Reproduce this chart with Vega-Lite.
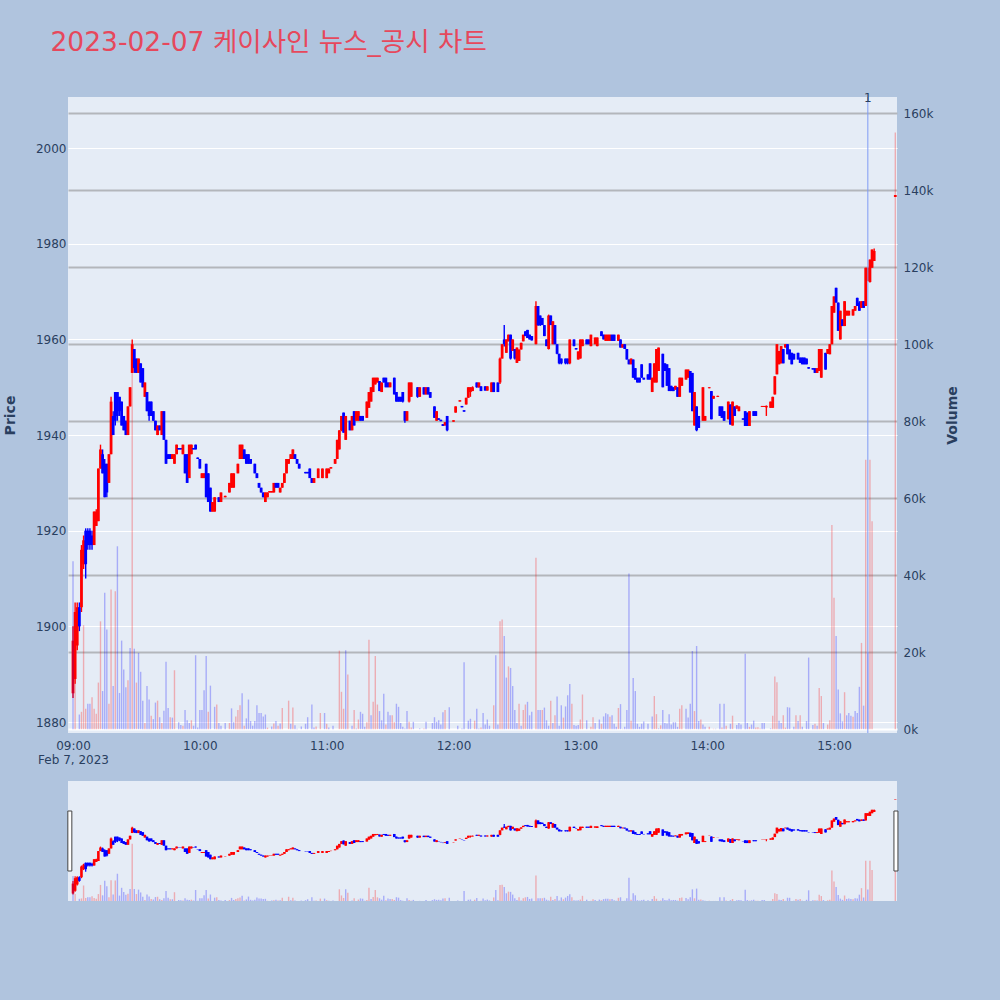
{
"$schema": "https://vega.github.io/schema/vega-lite/v6.json",
"background": "#b0c4de",
"padding": {"left": 3, "top": 29, "right": 50, "bottom": 110},
"title": {"text": "2023-02-07 케이사인 뉴스_공시 차트", "anchor": "start", "fontSize": 26.5, "font": "'DejaVu Sans', 'Noto Sans CJK KR', sans-serif", "fontWeight": "normal", "color": "#e6485c", "dx": 47, "offset": 36},
"config": {
  "view": {"stroke": null, "fill": "#e5ecf6"},
  "axis": {"labelFont": "'DejaVu Sans', sans-serif", "labelFontSize": 12, "labelColor": "#2a3f5f", "titleFont": "'DejaVu Sans', sans-serif", "titleColor": "#2a3f5f", "domain": false, "ticks": false}
},
"datasets": {
"candles": [
{"m":0,"o":1886,"h":1900,"l":1885,"c":1897},{"m":1,"o":1889,"h":1905,"l":1888,"c":1903},{"m":2,"o":1896,"h":1905,"l":1895,"c":1904},{"m":3,"o":1904,"h":1905,"l":1899,"c":1900},{"m":4,"o":1904,"h":1917,"l":1903,"c":1916},{"m":5,"o":1913,"h":1919,"l":1912,"c":1918},{"m":6,"o":1920,"h":1920.5,"l":1910,"c":1913},{"m":7,"o":1920,"h":1920.5,"l":1916,"c":1917},{"m":8,"o":1920,"h":1920.5,"l":1916,"c":1917},{"m":9,"o":1919,"h":1920,"l":1916,"c":1917},
{"m":10,"o":1917,"h":1924,"l":1917,"c":1924},{"m":11,"o":1921,"h":1924.5,"l":1921,"c":1924},{"m":12,"o":1922,"h":1933,"l":1922,"c":1933},{"m":13,"o":1933,"h":1938,"l":1933,"c":1937},{"m":14,"o":1936,"h":1937,"l":1932,"c":1932},{"m":15,"o":1934,"h":1935,"l":1927,"c":1927},{"m":16,"o":1934,"h":1934,"l":1927,"c":1928},{"m":17,"o":1930,"h":1936,"l":1930,"c":1936},{"m":18,"o":1936,"h":1948,"l":1936,"c":1947},{"m":19,"o":1944,"h":1945,"l":1940,"c":1940},
{"m":20,"o":1949,"h":1949,"l":1942,"c":1943},{"m":21,"o":1949,"h":1949,"l":1943,"c":1944},{"m":22,"o":1948,"h":1948,"l":1944,"c":1945},{"m":23,"o":1947,"h":1947,"l":1942,"c":1942},{"m":24,"o":1944,"h":1944,"l":1941,"c":1941},{"m":25,"o":1943,"h":1943,"l":1940,"c":1940},{"m":26,"o":1940,"h":1946,"l":1940,"c":1946},{"m":27,"o":1946,"h":1950,"l":1946,"c":1950},{"m":28,"o":1953,"h":1960,"l":1953,"c":1959},{"m":29,"o":1958,"h":1958,"l":1953,"c":1954},
{"m":30,"o":1956,"h":1956,"l":1953,"c":1953},{"m":31,"o":1953,"h":1956,"l":1953,"c":1956},{"m":32,"o":1955,"h":1955,"l":1951,"c":1951},{"m":33,"o":1954,"h":1954,"l":1950,"c":1950},{"m":34,"o":1948,"h":1951,"l":1948,"c":1951},{"m":35,"o":1949,"h":1949,"l":1945,"c":1945},{"m":36,"o":1947,"h":1947,"l":1943,"c":1944},{"m":37,"o":1947,"h":1947,"l":1944,"c":1944},{"m":38,"o":1945,"h":1945,"l":1943,"c":1943},{"m":39,"o":1943,"h":1943,"l":1941,"c":1941},
{"m":40,"o":1940,"h":1942,"l":1940,"c":1942},{"m":41,"o":1942,"h":1942,"l":1941,"c":1941},{"m":42,"o":1940,"h":1945,"l":1940,"c":1945},{"m":43,"o":1945,"h":1945,"l":1939,"c":1939},{"m":44,"o":1939,"h":1939,"l":1934,"c":1934},{"m":45,"o":1936,"h":1936,"l":1935,"c":1935},{"m":46,"o":1936,"h":1936,"l":1935,"c":1935},{"m":47,"o":1935,"h":1936,"l":1935,"c":1936},{"m":48,"o":1934,"h":1936,"l":1934,"c":1936},{"m":49,"o":1936,"h":1938,"l":1936,"c":1938},
{"m":50,"o":1937.3,"h":1937.3,"l":1937,"c":1937},{"m":51,"o":1937.3,"h":1937.3,"l":1937,"c":1937},{"m":52,"o":1936,"h":1938,"l":1936,"c":1938},{"m":53,"o":1936,"h":1936,"l":1932,"c":1932},{"m":54,"o":1936,"h":1936,"l":1930,"c":1930},{"m":55,"o":1931,"h":1938,"l":1931,"c":1938},{"m":56,"o":1936,"h":1938,"l":1936,"c":1938},{"m":57,"o":1937.3,"h":1937.3,"l":1937,"c":1937},{"m":58,"o":1938,"h":1938,"l":1937,"c":1937},{"m":59,"o":1935.3,"h":1935.3,"l":1935,"c":1935},
{"m":60,"o":1935,"h":1935,"l":1933,"c":1933},{"m":61,"o":1931,"h":1932,"l":1931,"c":1932},{"m":62,"o":1931,"h":1932,"l":1931,"c":1932},{"m":63,"o":1934,"h":1934,"l":1927,"c":1927},{"m":64,"o":1932,"h":1932,"l":1926,"c":1926},{"m":65,"o":1929,"h":1929,"l":1924,"c":1924},{"m":66,"o":1924,"h":1926,"l":1924,"c":1926},{"m":67,"o":1924,"h":1927,"l":1924,"c":1927},{"m":69,"o":1927,"h":1927,"l":1926,"c":1926},
{"m":70,"o":1926,"h":1928,"l":1926,"c":1928},{"m":72,"o":1927,"h":1927.3,"l":1927,"c":1927.3},{"m":74,"o":1928,"h":1930,"l":1928,"c":1930},{"m":75,"o":1929,"h":1932,"l":1929,"c":1932},{"m":76,"o":1929,"h":1932,"l":1929,"c":1932},{"m":78,"o":1932,"h":1934,"l":1932,"c":1934},{"m":79,"o":1935,"h":1938,"l":1935,"c":1938},
{"m":80,"o":1935,"h":1938,"l":1935,"c":1938},{"m":81,"o":1937,"h":1937,"l":1935,"c":1935},{"m":82,"o":1936,"h":1936,"l":1934,"c":1934},{"m":83,"o":1936,"h":1936,"l":1934,"c":1934},{"m":84,"o":1935,"h":1935,"l":1934,"c":1934},{"m":86,"o":1934,"h":1934,"l":1932,"c":1932},{"m":87,"o":1932,"h":1932,"l":1931,"c":1931},{"m":88,"o":1930,"h":1930,"l":1929,"c":1929},{"m":89,"o":1929,"h":1929,"l":1928,"c":1928},
{"m":90,"o":1928,"h":1928,"l":1927,"c":1927},{"m":91,"o":1926,"h":1928,"l":1926,"c":1928},{"m":92,"o":1927,"h":1928,"l":1927,"c":1928},{"m":93,"o":1928,"h":1928.3,"l":1928,"c":1928.3},{"m":94,"o":1928,"h":1928.3,"l":1928,"c":1928.3},{"m":95,"o":1928,"h":1930,"l":1928,"c":1930},{"m":96,"o":1930,"h":1930,"l":1929,"c":1929},{"m":97,"o":1930,"h":1930,"l":1929,"c":1929},{"m":98,"o":1928,"h":1929,"l":1928,"c":1929},{"m":99,"o":1929,"h":1930,"l":1929,"c":1930},
{"m":100,"o":1930,"h":1932,"l":1930,"c":1932},{"m":101,"o":1932,"h":1935,"l":1932,"c":1935},{"m":102,"o":1934,"h":1935,"l":1934,"c":1935},{"m":103,"o":1935,"h":1936,"l":1935,"c":1936},{"m":104,"o":1935,"h":1937,"l":1935,"c":1937},{"m":105,"o":1936,"h":1936,"l":1935,"c":1935},{"m":106,"o":1935,"h":1935,"l":1934,"c":1934},{"m":107,"o":1934,"h":1934,"l":1933,"c":1933},
{"m":110,"o":1932.3,"h":1932.3,"l":1932,"c":1932},{"m":111,"o":1932.3,"h":1932.3,"l":1932,"c":1932},{"m":112,"o":1933,"h":1933,"l":1931,"c":1931},{"m":113,"o":1931,"h":1931,"l":1930,"c":1930},{"m":114,"o":1930,"h":1931,"l":1930,"c":1931},{"m":116,"o":1931,"h":1933,"l":1931,"c":1933},{"m":118,"o":1931,"h":1933,"l":1931,"c":1933},
{"m":120,"o":1931,"h":1933,"l":1931,"c":1933},{"m":121,"o":1932,"h":1933,"l":1932,"c":1933},{"m":122,"o":1933,"h":1933.3,"l":1933,"c":1933.3},{"m":124,"o":1934,"h":1935,"l":1934,"c":1935},{"m":125,"o":1935,"h":1939,"l":1935,"c":1939},{"m":126,"o":1937,"h":1941,"l":1937,"c":1941},{"m":127,"o":1941,"h":1944,"l":1940.8,"c":1944},{"m":128,"o":1944.7,"h":1944.7,"l":1940.5,"c":1940.5},{"m":129,"o":1939,"h":1944,"l":1939,"c":1944},
{"m":131,"o":1943,"h":1943,"l":1941,"c":1941},{"m":132,"o":1941,"h":1944,"l":1941,"c":1944},{"m":133,"o":1945,"h":1945,"l":1942,"c":1942},{"m":134,"o":1943,"h":1945,"l":1943,"c":1945},{"m":135,"o":1943,"h":1945,"l":1943,"c":1945},{"m":136,"o":1944,"h":1944,"l":1943,"c":1943},{"m":137,"o":1944,"h":1944,"l":1943,"c":1943},{"m":139,"o":1943.6,"h":1947,"l":1943.6,"c":1947},
{"m":140,"o":1945.7,"h":1949,"l":1945.7,"c":1949},{"m":141,"o":1947,"h":1950,"l":1947,"c":1950},{"m":142,"o":1949,"h":1952,"l":1949,"c":1952},{"m":143,"o":1950.6,"h":1952,"l":1950.6,"c":1952},{"m":144,"o":1951,"h":1952,"l":1951,"c":1952},{"m":145,"o":1951.3,"h":1951.3,"l":1949.2,"c":1949.2},{"m":146,"o":1949,"h":1951,"l":1949,"c":1951},{"m":147,"o":1952,"h":1952,"l":1951,"c":1951},{"m":148,"o":1952,"h":1952,"l":1950,"c":1950},{"m":149,"o":1951,"h":1951,"l":1950,"c":1950},
{"m":150,"o":1950,"h":1951,"l":1950,"c":1951},{"m":152,"o":1952,"h":1952,"l":1948.5,"c":1948.5},{"m":153,"o":1949,"h":1949,"l":1947,"c":1947},{"m":154,"o":1948,"h":1948,"l":1947,"c":1947},{"m":155,"o":1948,"h":1948,"l":1947,"c":1947},{"m":156,"o":1949,"h":1949,"l":1946.8,"c":1947},{"m":157,"o":1945,"h":1945,"l":1942.6,"c":1943},{"m":158,"o":1943,"h":1945,"l":1943,"c":1945},{"m":159,"o":1947,"h":1951,"l":1946.8,"c":1951},
{"m":160,"o":1948,"h":1951,"l":1948,"c":1951},{"m":163,"o":1950,"h":1950,"l":1947.8,"c":1948},{"m":164,"o":1948,"h":1950,"l":1948,"c":1950},{"m":166,"o":1950,"h":1950,"l":1948.5,"c":1948.5},{"m":167,"o":1948.5,"h":1950,"l":1948.5,"c":1950},{"m":168,"o":1950,"h":1950,"l":1948.5,"c":1948.5},{"m":169,"o":1949,"h":1949,"l":1947.8,"c":1947.8},
{"m":171,"o":1946,"h":1946,"l":1943.6,"c":1943.6},{"m":172,"o":1943,"h":1945,"l":1943,"c":1945},{"m":173,"o":1943.5,"h":1943.5,"l":1943.2,"c":1943.2},{"m":174,"o":1943.2,"h":1943.2,"l":1942.9,"c":1942.9},{"m":175,"o":1942.3,"h":1942.3,"l":1941.9,"c":1941.9},{"m":176,"o":1942,"h":1942.7,"l":1942,"c":1942.7},{"m":177,"o":1944,"h":1944,"l":1940.8,"c":1941},
{"m":180,"o":1942.8,"h":1943.1,"l":1942.8,"c":1943.1},{"m":181,"o":1944.7,"h":1946,"l":1944.7,"c":1946},{"m":183,"o":1947,"h":1947.3,"l":1947,"c":1947.3},{"m":184,"o":1946.1,"h":1946.1,"l":1945.8,"c":1945.8},{"m":185,"o":1945.2,"h":1945.2,"l":1944.9,"c":1944.9},{"m":186,"o":1946.4,"h":1947.8,"l":1946.4,"c":1947.8},{"m":187,"o":1947.8,"h":1950,"l":1947.8,"c":1950},{"m":188,"o":1949,"h":1950,"l":1948,"c":1950},{"m":189,"o":1949.2,"h":1950.2,"l":1949.2,"c":1950},
{"m":191,"o":1951,"h":1951,"l":1949.9,"c":1950},{"m":192,"o":1950,"h":1951,"l":1949.9,"c":1951},{"m":193,"o":1950.2,"h":1950.2,"l":1949.2,"c":1949.2},{"m":195,"o":1950.2,"h":1950.2,"l":1949.3,"c":1949.3},{"m":196,"o":1949.3,"h":1950.2,"l":1949.3,"c":1950.2},{"m":198,"o":1949,"h":1951,"l":1949,"c":1951},{"m":199,"o":1951,"h":1951,"l":1949,"c":1949},
{"m":201,"o":1951,"h":1951,"l":1949,"c":1949},{"m":202,"o":1951,"h":1956.2,"l":1950.7,"c":1956},{"m":203,"o":1956,"h":1959,"l":1956,"c":1959},{"m":204,"o":1960,"h":1963,"l":1958.5,"c":1959},{"m":205,"o":1957.2,"h":1960,"l":1957.2,"c":1960},{"m":206,"o":1959.6,"h":1961,"l":1959.6,"c":1961},{"m":207,"o":1961,"h":1961,"l":1955.8,"c":1956},{"m":208,"o":1957.6,"h":1960,"l":1957.6,"c":1960},{"m":209,"o":1958,"h":1958,"l":1955.8,"c":1956},
{"m":210,"o":1955.1,"h":1958.3,"l":1955.1,"c":1958.3},{"m":211,"o":1955.5,"h":1957.9,"l":1955.5,"c":1957.9},{"m":212,"o":1957.9,"h":1959.3,"l":1957.9,"c":1959.3},{"m":213,"o":1959.6,"h":1961,"l":1959.6,"c":1961},{"m":214,"o":1961.7,"h":1961.7,"l":1960.7,"c":1960.7},{"m":215,"o":1962,"h":1962,"l":1960.3,"c":1960.3},{"m":216,"o":1961,"h":1961,"l":1960,"c":1960},{"m":217,"o":1960.7,"h":1960.7,"l":1959.8,"c":1959.8},{"m":219,"o":1959,"h":1968,"l":1959,"c":1967},
{"m":220,"o":1967,"h":1967,"l":1962.8,"c":1963},{"m":221,"o":1965,"h":1965,"l":1962.8,"c":1963},{"m":222,"o":1964.5,"h":1964.5,"l":1963,"c":1963},{"m":223,"o":1963,"h":1963,"l":1960.7,"c":1960.7},{"m":224,"o":1960,"h":1960,"l":1958.6,"c":1958.6},{"m":225,"o":1958,"h":1965.2,"l":1957.9,"c":1965},{"m":226,"o":1965,"h":1965,"l":1963,"c":1963},{"m":227,"o":1959,"h":1963.8,"l":1959,"c":1963.8},{"m":228,"o":1963,"h":1963,"l":1959,"c":1959},{"m":229,"o":1959,"h":1959,"l":1956.9,"c":1957},
{"m":230,"o":1957,"h":1957,"l":1954.8,"c":1955},{"m":231,"o":1956,"h":1956,"l":1954.8,"c":1955},{"m":233,"o":1956,"h":1956,"l":1954.8,"c":1955},{"m":234,"o":1956,"h":1956,"l":1954.8,"c":1955},{"m":235,"o":1955,"h":1960,"l":1954.8,"c":1960},{"m":237,"o":1960,"h":1960,"l":1958.6,"c":1958.6},{"m":238,"o":1958.2,"h":1958.2,"l":1957.9,"c":1957.9},{"m":239,"o":1955.8,"h":1957.5,"l":1955.8,"c":1957.5},
{"m":240,"o":1956,"h":1960,"l":1956,"c":1960},{"m":241,"o":1958.6,"h":1960,"l":1958.6,"c":1960},{"m":243,"o":1960,"h":1960,"l":1959,"c":1959},{"m":244,"o":1960,"h":1960,"l":1959,"c":1959},{"m":245,"o":1958.6,"h":1961,"l":1958.6,"c":1961},{"m":247,"o":1959,"h":1960.4,"l":1959,"c":1960.4},{"m":248,"o":1958.6,"h":1960.4,"l":1958.6,"c":1960.4},
{"m":250,"o":1961.7,"h":1961.7,"l":1960.7,"c":1960.7},{"m":251,"o":1961,"h":1961,"l":1960,"c":1960},{"m":252,"o":1959.7,"h":1961,"l":1959.7,"c":1961},{"m":253,"o":1959.7,"h":1961,"l":1959.7,"c":1961},{"m":254,"o":1959.7,"h":1961,"l":1959.7,"c":1961},{"m":255,"o":1961,"h":1961,"l":1959.7,"c":1959.7},{"m":256,"o":1961,"h":1961,"l":1959.7,"c":1959.7},{"m":258,"o":1959.7,"h":1961,"l":1959.7,"c":1961},{"m":259,"o":1960,"h":1960,"l":1958.3,"c":1958.3},
{"m":260,"o":1958.3,"h":1959,"l":1958.3,"c":1959},{"m":261,"o":1959,"h":1959,"l":1958,"c":1958},{"m":262,"o":1958,"h":1958,"l":1955.8,"c":1955.8},{"m":263,"o":1955.8,"h":1955.8,"l":1954.8,"c":1954.8},{"m":264,"o":1954.8,"h":1956,"l":1954.8,"c":1956},{"m":265,"o":1955.8,"h":1955.8,"l":1952,"c":1952},{"m":266,"o":1954,"h":1954,"l":1951.6,"c":1951.6},{"m":267,"o":1952,"h":1952,"l":1951,"c":1951},{"m":268,"o":1952,"h":1952,"l":1951,"c":1951},{"m":269,"o":1954.8,"h":1954.8,"l":1952,"c":1952},
{"m":270,"o":1952,"h":1952,"l":1951.6,"c":1951.6},{"m":272,"o":1952.7,"h":1952.7,"l":1951.6,"c":1951.6},{"m":273,"o":1955,"h":1955,"l":1951.6,"c":1951.6},{"m":274,"o":1949,"h":1952,"l":1949,"c":1952},{"m":275,"o":1951,"h":1955,"l":1951,"c":1955},{"m":276,"o":1951,"h":1958,"l":1951,"c":1958},{"m":277,"o":1953.4,"h":1958.3,"l":1953.4,"c":1958.3},{"m":279,"o":1957,"h":1957,"l":1950,"c":1950},
{"m":280,"o":1955,"h":1955,"l":1953.4,"c":1953.4},{"m":281,"o":1954.8,"h":1954.8,"l":1950.3,"c":1950.3},{"m":282,"o":1954,"h":1954,"l":1949.2,"c":1949.2},{"m":283,"o":1950.3,"h":1950.3,"l":1949.2,"c":1949.2},{"m":284,"o":1950,"h":1950,"l":1949.2,"c":1949.2},{"m":285,"o":1949.5,"h":1950.3,"l":1949.5,"c":1950.3},{"m":286,"o":1950,"h":1950,"l":1948,"c":1948},{"m":287,"o":1948,"h":1952,"l":1948,"c":1952},{"m":288,"o":1950.3,"h":1952,"l":1950.3,"c":1952},
{"m":290,"o":1951.6,"h":1953.7,"l":1951.6,"c":1953.7},{"m":291,"o":1952,"h":1953.7,"l":1952,"c":1953.7},{"m":292,"o":1953.4,"h":1953.4,"l":1948.9,"c":1948.9},{"m":293,"o":1953,"h":1953,"l":1945,"c":1945},{"m":294,"o":1942,"h":1949,"l":1942,"c":1949},{"m":295,"o":1946,"h":1946,"l":1940.8,"c":1941},{"m":296,"o":1944,"h":1944,"l":1941.5,"c":1941.5},{"m":298,"o":1943,"h":1950,"l":1943,"c":1950},{"m":299,"o":1943,"h":1944,"l":1943,"c":1944},
{"m":301,"o":1949.8,"h":1950,"l":1949.8,"c":1950},{"m":302,"o":1949.2,"h":1949.2,"l":1943.3,"c":1943.3},{"m":303,"o":1947.6,"h":1948.2,"l":1947.6,"c":1948.2},{"m":305,"o":1948,"h":1948.2,"l":1948,"c":1948.2},{"m":306,"o":1946,"h":1946,"l":1944,"c":1944},{"m":307,"o":1946,"h":1946,"l":1943.6,"c":1943.6},{"m":308,"o":1945,"h":1945,"l":1943,"c":1943},
{"m":310,"o":1943.3,"h":1947,"l":1943.3,"c":1947},{"m":311,"o":1946.4,"h":1946.4,"l":1942.2,"c":1942.2},{"m":312,"o":1942,"h":1947,"l":1942,"c":1947},{"m":313,"o":1946,"h":1946,"l":1944,"c":1944},{"m":314,"o":1945.5,"h":1946.2,"l":1945.5,"c":1946.2},{"m":315,"o":1945,"h":1946,"l":1945,"c":1946},{"m":317,"o":1943.5,"h":1943.5,"l":1943.2,"c":1943.2},{"m":318,"o":1945,"h":1945,"l":1941.9,"c":1941.9},{"m":319,"o":1944.7,"h":1944.7,"l":1941.9,"c":1941.9},
{"m":320,"o":1941.9,"h":1945,"l":1941.9,"c":1945},{"m":322,"o":1945,"h":1945,"l":1944,"c":1944},{"m":323,"o":1945,"h":1945,"l":1944,"c":1944},{"m":326,"o":1945.9,"h":1946.1,"l":1945.9,"c":1946.1},{"m":327,"o":1945.9,"h":1946.1,"l":1945.9,"c":1946.1},{"m":328,"o":1945.8,"h":1946.2,"l":1944,"c":1946.1},
{"m":330,"o":1945.7,"h":1947,"l":1945.7,"c":1947},{"m":331,"o":1945.7,"h":1948,"l":1945.7,"c":1948},{"m":332,"o":1948.5,"h":1952.3,"l":1948.5,"c":1952.3},{"m":333,"o":1952.7,"h":1959,"l":1952.7,"c":1959},{"m":334,"o":1954.8,"h":1957.6,"l":1954.8,"c":1957.6},{"m":335,"o":1955,"h":1958.6,"l":1955,"c":1958.6},{"m":336,"o":1958,"h":1958,"l":1955,"c":1955},{"m":337,"o":1958.3,"h":1959,"l":1958.3,"c":1959},{"m":338,"o":1959,"h":1959,"l":1956.9,"c":1956.9},{"m":339,"o":1957.9,"h":1957.9,"l":1955.8,"c":1955.8},
{"m":340,"o":1957.2,"h":1957.2,"l":1954.8,"c":1954.8},{"m":341,"o":1957,"h":1957,"l":1955.8,"c":1955.8},{"m":343,"o":1957.2,"h":1957.2,"l":1955.8,"c":1955.8},{"m":344,"o":1956.2,"h":1956.2,"l":1955.1,"c":1955.1},{"m":345,"o":1956.2,"h":1956.2,"l":1954.8,"c":1954.8},{"m":346,"o":1956.2,"h":1956.2,"l":1954.8,"c":1954.8},{"m":347,"o":1956,"h":1956,"l":1954.8,"c":1954.8},{"m":348,"o":1954.2,"h":1954.2,"l":1953.9,"c":1953.9},
{"m":350,"o":1954,"h":1954,"l":1953.7,"c":1953.7},{"m":351,"o":1954,"h":1954,"l":1953,"c":1953},{"m":352,"o":1953,"h":1954,"l":1953,"c":1954},{"m":353,"o":1953.4,"h":1958,"l":1953.4,"c":1958},{"m":354,"o":1952,"h":1958,"l":1952,"c":1958},{"m":356,"o":1957.2,"h":1957.2,"l":1953.7,"c":1953.7},{"m":357,"o":1957,"h":1958,"l":1957,"c":1958},{"m":358,"o":1956.9,"h":1959,"l":1956.9,"c":1959},{"m":359,"o":1959,"h":1967,"l":1959,"c":1967},
{"m":360,"o":1965.6,"h":1969,"l":1965.6,"c":1969},{"m":361,"o":1970.8,"h":1970.8,"l":1967.7,"c":1967.7},{"m":362,"o":1967.7,"h":1967.7,"l":1961.8,"c":1961.8},{"m":363,"o":1960,"h":1966,"l":1960,"c":1966},{"m":364,"o":1964.2,"h":1964.2,"l":1962.8,"c":1962.8},{"m":365,"o":1962.8,"h":1968,"l":1962.8,"c":1968},{"m":366,"o":1965,"h":1966,"l":1965,"c":1966},{"m":367,"o":1965,"h":1966,"l":1965,"c":1966},{"m":369,"o":1965,"h":1966.3,"l":1965,"c":1966.3},
{"m":370,"o":1966,"h":1967,"l":1966,"c":1967},{"m":371,"o":1968.7,"h":1968.7,"l":1967,"c":1967},{"m":372,"o":1967.7,"h":1968,"l":1966,"c":1966},{"m":373,"o":1966.6,"h":1968,"l":1966.6,"c":1968},{"m":374,"o":1968,"h":1968,"l":1966.6,"c":1966.6},{"m":375,"o":1967,"h":1975,"l":1967,"c":1975},{"m":376,"o":1972.2,"h":1975,"l":1972.2,"c":1975},{"m":377,"o":1972,"h":1976.7,"l":1971.9,"c":1976.7},{"m":378,"o":1975,"h":1978.8,"l":1975,"c":1978.8},{"m":379,"o":1976.4,"h":1979,"l":1976.4,"c":1978.5},
{"m":389,"o":1989.8,"h":1990.2,"l":1989.8,"c":1990.2}
],
"vol": [
{"m":0,"v":43600,"d":"d"},{"m":1,"v":12000,"d":"u"},{"m":3,"v":3800,"d":"d"},{"m":4,"v":4500,"d":"u"},{"m":5,"v":27000,"d":"u"},{"m":6,"v":5300,"d":"u"},{"m":7,"v":6600,"d":"d"},{"m":8,"v":6600,"d":"d"},{"m":9,"v":8300,"d":"u"},
{"m":10,"v":5300,"d":"u"},{"m":11,"v":4000,"d":"u"},{"m":12,"v":12100,"d":"u"},{"m":13,"v":28000,"d":"u"},{"m":14,"v":9900,"d":"d"},{"m":15,"v":35400,"d":"d"},{"m":16,"v":25900,"d":"d"},{"m":17,"v":6600,"d":"u"},{"m":18,"v":36300,"d":"u"},{"m":19,"v":11200,"d":"d"},
{"m":20,"v":35800,"d":"u"},{"m":21,"v":47500,"d":"d"},{"m":22,"v":9400,"d":"d"},{"m":23,"v":23000,"d":"d"},{"m":24,"v":15500,"d":"d"},{"m":25,"v":10900,"d":"d"},{"m":26,"v":12700,"d":"u"},{"m":27,"v":21100,"d":"d"},{"m":28,"v":99500,"d":"u"},{"m":29,"v":20900,"d":"d"},
{"m":30,"v":12100,"d":"u"},{"m":31,"v":19800,"d":"d"},{"m":32,"v":14900,"d":"d"},{"m":33,"v":7400,"d":"d"},{"m":34,"v":1600,"d":"u"},{"m":35,"v":11200,"d":"d"},{"m":36,"v":7700,"d":"d"},{"m":37,"v":3500,"d":"u"},{"m":38,"v":2600,"d":"d"},{"m":39,"v":6900,"d":"d"},
{"m":40,"v":7400,"d":"u"},{"m":41,"v":3100,"d":"d"},{"m":42,"v":1600,"d":"u"},{"m":43,"v":4800,"d":"d"},{"m":44,"v":17500,"d":"d"},{"m":45,"v":5500,"d":"d"},{"m":46,"v":3100,"d":"u"},{"m":47,"v":3000,"d":"d"},{"m":48,"v":15300,"d":"u"},
{"m":50,"v":1800,"d":"d"},{"m":51,"v":1100,"d":"d"},{"m":52,"v":900,"d":"u"},{"m":53,"v":5000,"d":"d"},{"m":54,"v":2300,"d":"d"},{"m":55,"v":1600,"d":"d"},{"m":56,"v":2300,"d":"u"},{"m":57,"v":900,"d":"d"},{"m":58,"v":19200,"d":"d"},{"m":59,"v":400,"d":"d"},
{"m":60,"v":5000,"d":"d"},{"m":61,"v":5000,"d":"d"},{"m":62,"v":10100,"d":"d"},{"m":63,"v":19000,"d":"d"},{"m":64,"v":4500,"d":"u"},{"m":65,"v":11300,"d":"d"},{"m":67,"v":5800,"d":"d"},{"m":68,"v":6400,"d":"u"},{"m":69,"v":1600,"d":"d"},
{"m":70,"v":900,"d":"d"},{"m":72,"v":1600,"d":"d"},{"m":74,"v":1600,"d":"u"},{"m":75,"v":5400,"d":"d"},{"m":76,"v":1800,"d":"d"},{"m":77,"v":3300,"d":"u"},{"m":78,"v":5000,"d":"u"},{"m":79,"v":6200,"d":"u"},
{"m":80,"v":9300,"d":"d"},{"m":81,"v":900,"d":"u"},{"m":82,"v":2800,"d":"d"},{"m":83,"v":7700,"d":"d"},{"m":84,"v":2100,"d":"d"},{"m":85,"v":900,"d":"d"},{"m":86,"v":2100,"d":"d"},{"m":87,"v":6200,"d":"d"},{"m":88,"v":4200,"d":"d"},{"m":89,"v":4200,"d":"d"},
{"m":90,"v":3300,"d":"d"},{"m":91,"v":3800,"d":"d"},{"m":92,"v":400,"d":"u"},{"m":94,"v":700,"d":"d"},{"m":95,"v":1500,"d":"u"},{"m":96,"v":2100,"d":"d"},{"m":97,"v":900,"d":"u"},{"m":98,"v":1500,"d":"d"},{"m":99,"v":5500,"d":"u"},
{"m":102,"v":7400,"d":"u"},{"m":103,"v":1400,"d":"d"},{"m":104,"v":5600,"d":"u"},{"m":105,"v":1000,"d":"d"},{"m":106,"v":100,"d":"d"},{"m":108,"v":700,"d":"d"},
{"m":110,"v":1400,"d":"d"},{"m":111,"v":3100,"d":"d"},{"m":113,"v":6400,"d":"d"},{"m":114,"v":400,"d":"d"},{"m":115,"v":700,"d":"u"},{"m":117,"v":4200,"d":"u"},{"m":119,"v":4200,"d":"d"},
{"m":120,"v":1400,"d":"u"},{"m":121,"v":400,"d":"d"},{"m":123,"v":900,"d":"d"},{"m":126,"v":20400,"d":"u"},{"m":127,"v":9700,"d":"u"},{"m":128,"v":5300,"d":"u"},{"m":129,"v":20500,"d":"d"},
{"m":130,"v":14200,"d":"u"},{"m":132,"v":900,"d":"d"},{"m":133,"v":5000,"d":"u"},{"m":134,"v":200,"d":"d"},{"m":135,"v":2500,"d":"u"},{"m":136,"v":4500,"d":"d"},{"m":137,"v":4000,"d":"d"},{"m":138,"v":600,"d":"d"},{"m":139,"v":1800,"d":"u"},
{"m":140,"v":23200,"d":"u"},{"m":141,"v":3600,"d":"d"},{"m":142,"v":7100,"d":"u"},{"m":143,"v":19000,"d":"u"},{"m":144,"v":6400,"d":"u"},{"m":145,"v":4700,"d":"d"},{"m":146,"v":2300,"d":"d"},{"m":147,"v":9200,"d":"d"},{"m":148,"v":1200,"d":"u"},{"m":149,"v":4500,"d":"d"},
{"m":150,"v":3600,"d":"d"},{"m":151,"v":3600,"d":"u"},{"m":152,"v":1800,"d":"u"},{"m":153,"v":6600,"d":"d"},{"m":154,"v":5800,"d":"d"},{"m":155,"v":1600,"d":"d"},{"m":156,"v":600,"d":"d"},{"m":157,"v":200,"d":"d"},{"m":158,"v":4700,"d":"d"},{"m":159,"v":1900,"d":"u"},
{"m":160,"v":400,"d":"u"},{"m":161,"v":1900,"d":"d"},{"m":164,"v":200,"d":"d"},{"m":166,"v":200,"d":"u"},{"m":167,"v":1900,"d":"d"},
{"m":170,"v":1600,"d":"d"},{"m":171,"v":3100,"d":"d"},{"m":172,"v":1900,"d":"d"},{"m":173,"v":2300,"d":"d"},{"m":174,"v":1200,"d":"d"},{"m":175,"v":4400,"d":"d"},{"m":176,"v":5000,"d":"u"},{"m":178,"v":5700,"d":"d"},
{"m":182,"v":900,"d":"d"},{"m":184,"v":200,"d":"d"},{"m":185,"v":17400,"d":"d"},{"m":187,"v":2200,"d":"d"},{"m":188,"v":2700,"d":"d"},
{"m":190,"v":2200,"d":"u"},{"m":191,"v":5300,"d":"d"},{"m":192,"v":200,"d":"d"},{"m":193,"v":400,"d":"u"},{"m":194,"v":4200,"d":"d"},{"m":195,"v":1200,"d":"d"},{"m":196,"v":2500,"d":"d"},{"m":197,"v":900,"d":"d"},{"m":199,"v":6200,"d":"u"},
{"m":200,"v":19200,"d":"d"},{"m":201,"v":1200,"d":"d"},{"m":202,"v":28000,"d":"u"},{"m":203,"v":28500,"d":"u"},{"m":204,"v":24200,"d":"d"},{"m":205,"v":13400,"d":"d"},{"m":206,"v":16300,"d":"u"},{"m":207,"v":15900,"d":"d"},{"m":208,"v":11200,"d":"d"},{"m":209,"v":5000,"d":"d"},
{"m":210,"v":1600,"d":"d"},{"m":211,"v":6600,"d":"u"},{"m":212,"v":900,"d":"d"},{"m":213,"v":5000,"d":"u"},{"m":214,"v":6400,"d":"u"},{"m":215,"v":7100,"d":"d"},{"m":216,"v":3600,"d":"d"},{"m":217,"v":4500,"d":"d"},{"m":219,"v":44500,"d":"u"},
{"m":220,"v":5000,"d":"d"},{"m":221,"v":5000,"d":"d"},{"m":222,"v":5000,"d":"u"},{"m":223,"v":5600,"d":"d"},{"m":224,"v":2300,"d":"d"},{"m":225,"v":900,"d":"d"},{"m":226,"v":7400,"d":"u"},{"m":227,"v":1600,"d":"d"},{"m":228,"v":3600,"d":"u"},{"m":229,"v":8500,"d":"d"},
{"m":230,"v":900,"d":"d"},{"m":231,"v":6200,"d":"d"},{"m":232,"v":3000,"d":"u"},{"m":233,"v":5900,"d":"d"},{"m":234,"v":8800,"d":"d"},{"m":235,"v":11700,"d":"d"},{"m":236,"v":6600,"d":"u"},{"m":237,"v":1100,"d":"d"},{"m":238,"v":900,"d":"d"},{"m":239,"v":1100,"d":"d"},
{"m":240,"v":2500,"d":"u"},{"m":241,"v":9000,"d":"u"},{"m":243,"v":2300,"d":"d"},{"m":245,"v":600,"d":"u"},{"m":246,"v":3100,"d":"u"},{"m":247,"v":1600,"d":"d"},{"m":249,"v":2500,"d":"d"},
{"m":250,"v":1400,"d":"u"},{"m":251,"v":3300,"d":"d"},{"m":252,"v":4100,"d":"d"},{"m":253,"v":3900,"d":"d"},{"m":254,"v":3200,"d":"u"},{"m":255,"v":3600,"d":"d"},{"m":256,"v":1400,"d":"d"},{"m":257,"v":600,"d":"d"},{"m":258,"v":5500,"d":"u"},{"m":259,"v":6500,"d":"d"},
{"m":260,"v":100,"d":"d"},{"m":261,"v":600,"d":"d"},{"m":262,"v":5000,"d":"d"},{"m":263,"v":40400,"d":"d"},{"m":264,"v":2200,"d":"u"},{"m":265,"v":13300,"d":"d"},{"m":266,"v":9900,"d":"d"},{"m":267,"v":1400,"d":"d"},{"m":268,"v":600,"d":"d"},{"m":269,"v":1400,"d":"d"},
{"m":270,"v":2000,"d":"d"},{"m":272,"v":1400,"d":"d"},{"m":274,"v":3300,"d":"d"},{"m":275,"v":8600,"d":"u"},{"m":276,"v":3900,"d":"u"},{"m":277,"v":200,"d":"d"},{"m":278,"v":1000,"d":"u"},{"m":279,"v":5000,"d":"d"},
{"m":280,"v":1600,"d":"d"},{"m":281,"v":1500,"d":"d"},{"m":282,"v":3900,"d":"d"},{"m":283,"v":1200,"d":"d"},{"m":284,"v":1800,"d":"d"},{"m":285,"v":1800,"d":"d"},{"m":286,"v":600,"d":"d"},{"m":287,"v":5300,"d":"u"},{"m":288,"v":6200,"d":"u"},
{"m":290,"v":5300,"d":"d"},{"m":291,"v":3000,"d":"d"},{"m":292,"v":6600,"d":"d"},{"m":293,"v":20300,"d":"d"},{"m":294,"v":4700,"d":"u"},{"m":295,"v":21600,"d":"d"},{"m":296,"v":2100,"d":"d"},{"m":297,"v":2500,"d":"u"},{"m":298,"v":1200,"d":"d"},{"m":299,"v":600,"d":"d"},
{"m":301,"v":600,"d":"u"},{"m":303,"v":100,"d":"u"},{"m":304,"v":100,"d":"d"},{"m":306,"v":6600,"d":"d"},{"m":307,"v":400,"d":"u"},{"m":308,"v":6600,"d":"d"},{"m":309,"v":900,"d":"u"},
{"m":311,"v":1400,"d":"d"},{"m":312,"v":3500,"d":"u"},{"m":314,"v":1100,"d":"d"},{"m":315,"v":1600,"d":"d"},{"m":316,"v":1200,"d":"d"},{"m":318,"v":19600,"d":"d"},{"m":319,"v":1600,"d":"d"},
{"m":320,"v":600,"d":"u"},{"m":321,"v":1200,"d":"d"},{"m":322,"v":2200,"d":"d"},{"m":323,"v":400,"d":"u"},{"m":324,"v":500,"d":"u"},{"m":325,"v":200,"d":"u"},{"m":326,"v":1600,"d":"d"},{"m":327,"v":1600,"d":"d"},
{"m":330,"v":200,"d":"d"},{"m":331,"v":3500,"d":"u"},{"m":332,"v":13700,"d":"u"},{"m":333,"v":12200,"d":"u"},{"m":334,"v":2200,"d":"d"},{"m":335,"v":1600,"d":"d"},{"m":336,"v":3600,"d":"u"},{"m":337,"v":400,"d":"u"},{"m":338,"v":5700,"d":"d"},{"m":339,"v":5600,"d":"d"},
{"m":341,"v":600,"d":"d"},{"m":342,"v":3600,"d":"u"},{"m":343,"v":2100,"d":"d"},{"m":344,"v":3600,"d":"u"},{"m":345,"v":600,"d":"d"},{"m":347,"v":2100,"d":"d"},{"m":348,"v":18600,"d":"d"},
{"m":350,"v":1100,"d":"d"},{"m":351,"v":1400,"d":"u"},{"m":352,"v":900,"d":"d"},{"m":353,"v":10700,"d":"u"},{"m":354,"v":8600,"d":"u"},{"m":355,"v":1600,"d":"d"},{"m":357,"v":1200,"d":"u"},{"m":358,"v":2300,"d":"u"},{"m":359,"v":53000,"d":"u"},
{"m":360,"v":34100,"d":"u"},{"m":361,"v":24200,"d":"d"},{"m":362,"v":10300,"d":"d"},{"m":363,"v":4100,"d":"d"},{"m":364,"v":2000,"d":"d"},{"m":365,"v":9600,"d":"u"},{"m":366,"v":3600,"d":"d"},{"m":367,"v":4200,"d":"d"},{"m":368,"v":3500,"d":"d"},{"m":369,"v":3200,"d":"u"},
{"m":370,"v":4700,"d":"d"},{"m":371,"v":4200,"d":"d"},{"m":372,"v":11000,"d":"d"},{"m":373,"v":22400,"d":"u"},{"m":374,"v":6100,"d":"d"},{"m":375,"v":70000,"d":"u"},{"m":376,"v":20000,"d":"d"},{"m":377,"v":70000,"d":"u"},{"m":378,"v":54000,"d":"u"},
{"m":389,"v":155000,"d":"u"}
],
"news": [{"m": 376, "label": "1"}],
"ends": [{"m": -1.5}, {"m": 389.3}]
},
"spacing": 16,
"vconcat": [
{
  "width": 829, "height": 636,
  "layer": [
    {"data": {"name": "candles"}, "layer": [
      {"mark": {"type": "rule", "strokeWidth": 1.4}, "encoding": {
        "x": {"field": "m", "type": "quantitative", "scale": {"domain": [-2.37, 389.8], "nice": false, "zero": false, "padding": 0},
              "axis": {"values": [0, 60, 120, 180, 240, 300, 360], "grid": false, "title": null, "labelPadding": 7, "labelLineHeight": 14, "labelOverlap": false, "labelFlush": false,
                       "labelExpr": "datum.value == 0 ? ['09:00', 'Feb 7, 2023'] : (9 + datum.value / 60) + ':00'"}},
        "y": {"field": "l", "type": "quantitative", "scale": {"domain": [1877.7, 2010.7], "nice": false, "zero": false},
              "axis": {"orient": "left", "values": [1880, 1900, 1920, 1940, 1960, 1980, 2000], "format": "d", "grid": true, "gridColor": "#ffffff", "gridWidth": 1, "title": "Price", "titleFontSize": 14, "titleFontWeight": "bold", "labelPadding": 2, "titlePadding": 18}},
        "y2": {"field": "h"},
        "color": {"condition": {"test": "datum.c >= datum.o", "value": "#ff0000"}, "value": "#0000ff"}
      }},
      {"mark": {"type": "bar", "size": 2.8}, "encoding": {
        "x": {"field": "m", "type": "quantitative", "scale": {"domain": [-2.37, 389.8], "nice": false, "zero": false, "padding": 0}},
        "y": {"field": "o", "type": "quantitative", "scale": {"domain": [1877.7, 2010.7], "nice": false, "zero": false}},
        "y2": {"field": "c"},
        "color": {"condition": {"test": "datum.c >= datum.o", "value": "#ff0000"}, "value": "#0000ff"}
      }}
    ]},
    {"layer": [
      {"data": {"name": "vol"}, "mark": {"type": "bar", "size": 1.4, "opacity": 0.27}, "encoding": {
        "x": {"field": "m", "type": "quantitative", "scale": {"domain": [-2.37, 389.8], "nice": false, "zero": false, "padding": 0}},
        "y": {"field": "v", "type": "quantitative", "scale": {"domain": [-1000, 164200], "nice": false},
              "axis": {"orient": "right", "values": [0, 20000, 40000, 60000, 80000, 100000, 120000, 140000, 160000], "format": "~s", "grid": true,
                       "gridColor": {"condition": {"test": "datum.value === 0", "value": "#ffffff"}, "value": "#b3b6bb"}, "gridWidth": 2, "title": "Volume", "titleFontSize": 14, "titleFontWeight": "bold", "titleAngle": 270, "labelPadding": 6, "titlePadding": 27}},
        "color": {"condition": {"test": "datum.d == 'u'", "value": "#ff0000"}, "value": "#0000ff"}
      }},
      {"data": {"name": "news"}, "mark": {"type": "rule", "color": "#7f9cf5", "strokeWidth": 1}, "encoding": {
        "x": {"field": "m", "type": "quantitative", "scale": {"domain": [-2.37, 389.8], "nice": false, "zero": false, "padding": 0}}
      }},
      {"data": {"name": "news"}, "mark": {"type": "text", "fontSize": 12, "font": "'DejaVu Sans', sans-serif", "color": "#2a3f5f", "baseline": "middle", "dy": 1}, "encoding": {
        "x": {"field": "m", "type": "quantitative", "scale": {"domain": [-2.37, 389.8], "nice": false, "zero": false, "padding": 0}},
        "y": {"datum": 164200, "type": "quantitative"},
        "text": {"field": "label"}
      }}
    ]}
  ],
  "resolve": {"scale": {"y": "independent"}}
},
{
  "width": 829, "height": 120,
  "layer": [
    {"data": {"name": "candles"}, "layer": [
      {"mark": {"type": "rule", "strokeWidth": 1.2}, "encoding": {
        "x": {"field": "m", "type": "quantitative", "scale": {"domain": [-2.37, 389.8], "nice": false, "zero": false, "padding": 0}, "axis": null},
        "y": {"field": "l", "type": "quantitative", "scale": {"domain": [1877.7, 2010.7], "nice": false, "zero": false}, "axis": null},
        "y2": {"field": "h"},
        "color": {"condition": {"test": "datum.c >= datum.o", "value": "#ff0000"}, "value": "#0000ff"}
      }},
      {"mark": {"type": "bar", "size": 2.6}, "encoding": {
        "x": {"field": "m", "type": "quantitative", "scale": {"domain": [-2.37, 389.8], "nice": false, "zero": false, "padding": 0}},
        "y": {"field": "o", "type": "quantitative", "scale": {"domain": [1877.7, 2010.7], "nice": false, "zero": false}},
        "y2": {"field": "c"},
        "color": {"condition": {"test": "datum.c >= datum.o", "value": "#ff0000"}, "value": "#0000ff"}
      }}
    ]},
    {"layer": [
      {"data": {"name": "vol"}, "mark": {"type": "bar", "size": 1.4, "opacity": 0.27}, "encoding": {
        "x": {"field": "m", "type": "quantitative", "scale": {"domain": [-2.37, 389.8], "nice": false, "zero": false, "padding": 0}},
        "y": {"field": "v", "type": "quantitative", "scale": {"domain": [0, 209000], "nice": false}, "axis": null},
        "color": {"condition": {"test": "datum.d == 'u'", "value": "#ff0000"}, "value": "#0000ff"}
      }},
      {"data": {"name": "ends"}, "mark": {"type": "tick", "orient": "vertical", "size": 60, "thickness": 4, "color": "#ffffff", "filled": true, "opacity": 1, "stroke": "#444444", "strokeWidth": 1}, "encoding": {
        "x": {"field": "m", "type": "quantitative", "scale": {"domain": [-2.37, 389.8], "nice": false, "zero": false, "padding": 0}}
      }}
    ]}
  ],
  "resolve": {"scale": {"y": "independent"}}
}
]
}
